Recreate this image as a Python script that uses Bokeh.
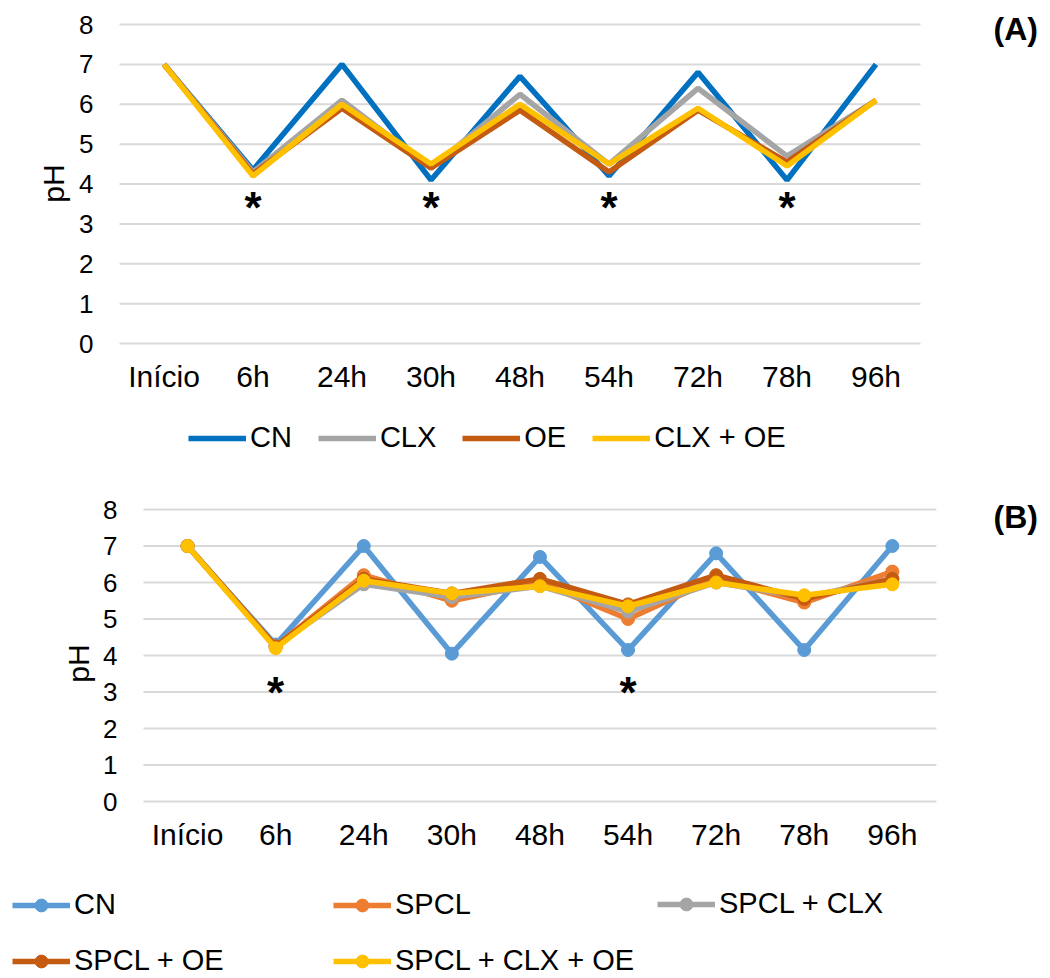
import math
from bokeh.plotting import figure
from bokeh.models import Legend, LegendItem, Label, Range1d, ColumnDataSource, FixedTicker
from bokeh.core.properties import value
from bokeh.embed import file_html
from bokeh.resources import INLINE

times = ["Início", "6h", "24h", "30h", "48h", "54h", "72h", "78h", "96h"]
y_ticks = [0, 1, 2, 3, 4, 5, 6, 7, 8]

# Panel A
a_names = ["CN", "CLX", "OE", "CLX + OE"]
a_cn = [7.0, 4.35, 7.0, 4.1, 6.7, 4.2, 6.8, 4.1, 7.0]
a_clx = [7.0, 4.3, 6.1, 4.4, 6.25, 4.5, 6.4, 4.7, 6.1]
a_oe = [7.0, 4.25, 5.9, 4.4, 5.85, 4.3, 5.85, 4.55, 6.1]
a_clx_oe = [7.0, 4.2, 6.0, 4.5, 6.0, 4.5, 5.9, 4.45, 6.1]
a_colors = ["#0070C0", "#A5A5A5", "#C55A11", "#FFC000"]
a_star_x = ["6h", "30h", "54h", "78h"]
a_star_y = [3.6, 3.6, 3.6, 3.6]

# Panel B
b_names = ["CN", "SPCL", "SPCL + CLX", "SPCL + OE", "SPCL + CLX + OE"]
b_cn = [7.0, 4.3, 7.0, 4.05, 6.7, 4.15, 6.8, 4.15, 7.0]
b_spcl = [7.0, 4.25, 6.2, 5.5, 6.0, 5.0, 6.1, 5.45, 6.3]
b_spcl_clx = [7.0, 4.25, 5.95, 5.6, 5.9, 5.2, 6.0, 5.6, 6.1]
b_spcl_oe = [7.0, 4.25, 6.1, 5.7, 6.1, 5.4, 6.2, 5.55, 6.1]
b_spcl_clx_oe = [7.0, 4.2, 6.05, 5.7, 5.9, 5.35, 6.0, 5.65, 5.95]
b_colors = ["#5B9BD5", "#ED7D31", "#A5A5A5", "#C55A11", "#FFC000"]
b_star_x = ["6h", "54h"]
b_star_y = [3.2, 3.2]

FONT = "Liberation Sans"
x_idx = list(range(len(times)))
pos = {t: i for i, t in enumerate(times)}


def base_fig(width, height, area_left, area_top, cat_px, unit_px):
    """Frame fills the whole canvas; category area starts at area_left px,
    y=8 sits at area_top px."""
    n = len(times)
    x0 = -0.5 - area_left / cat_px
    x1 = x0 + width / cat_px
    y1 = 8 + area_top / unit_px
    y0 = y1 - height / unit_px
    p = figure(x_range=Range1d(x0, x1), y_range=Range1d(y0, y1),
               width=width, height=height, output_backend="svg",
               toolbar_location=None, min_border=0)
    p.outline_line_color = None
    p.xgrid.grid_line_color = None
    p.ygrid.grid_line_color = None
    p.segment(x0=[-0.5] * len(y_ticks), x1=[n - 0.5] * len(y_ticks),
              y0=y_ticks, y1=y_ticks, line_color="#D9D9D9", line_width=2)
    p.xaxis.fixed_location = 0
    p.yaxis.fixed_location = -0.5
    p.xaxis.ticker = FixedTicker(ticks=x_idx)
    p.xaxis.major_label_overrides = {i: t for i, t in zip(x_idx, times)}
    p.yaxis.ticker = FixedTicker(ticks=y_ticks)
    for ax in (p.xaxis[0], p.yaxis[0]):
        ax.axis_line_color = None
        ax.major_tick_line_color = None
        ax.minor_tick_line_color = None
        ax.major_tick_out = 0
        ax.major_tick_in = 0
        ax.minor_tick_out = 0
        ax.minor_tick_in = 0
        ax.major_label_text_font = FONT
        ax.major_label_text_color = "#000000"
    p.xaxis.major_label_text_font_size = "30px"
    p.xaxis.major_label_standoff = 16
    p.yaxis.major_label_text_font_size = "26px"
    p.yaxis.major_label_standoff = 26
    return p


def stars(p, xs, ys):
    src = ColumnDataSource(dict(x=[pos[t] for t in xs], y=ys, t=["*"] * len(xs)))
    p.text(x="x", y="y", text="t", source=src, text_font=value(FONT),
           text_font_size="44px", text_font_style="bold", text_align="center",
           text_baseline="middle", y_offset=8, text_color="#000000")


def make_legend(items, loc, spacing, orientation, gh=20):
    return Legend(items=items, orientation=orientation, location=loc,
                  glyph_width=58, glyph_height=gh, label_standoff=4, spacing=spacing,
                  padding=0, margin=0, border_line_color=None,
                  background_fill_alpha=0, label_text_color="#000000",
                  label_text_font=FONT, label_text_font_size="29px")


def text_label(p, x, y, txt, size, bold=False, angle=0.0, align="left"):
    p.add_layout(Label(x=x, y=y, x_units="screen", y_units="screen", text=txt,
                       text_font=FONT, text_font_size=size,
                       text_font_style="bold" if bold else "normal",
                       text_color="#000000", angle=angle,
                       text_baseline="middle", text_align=align))


# ---------- Figure A ----------
HA = 478
pA = base_fig(1050, HA, 119, 24, 89.0, 319 / 8)
a_series = [a_cn, a_clx, a_oe, a_clx_oe]
a_items = []
for name, ys, c in zip(a_names, a_series, a_colors):
    r = pA.line(x_idx, ys, line_color=c, line_width=5.5)
    a_items.append(LegendItem(label=name, renderers=[r]))
stars(pA, a_star_x, a_star_y)
# legend location = bottom-left corner, measured from the canvas bottom
pA.add_layout(make_legend(a_items, (188, 24), 26, "horizontal"))
text_label(pA, 993, HA - 28, "(A)", "32px", bold=True)
text_label(pA, 53, HA - 183, "pH", "30px", angle=math.pi / 2, align="center")

# ---------- Figure B ----------
HB = 500
pB = base_fig(1050, HB, 143, 31, 88.1, 292 / 8)
b_series = [b_cn, b_spcl, b_spcl_clx, b_spcl_oe, b_spcl_clx_oe]
b_items = []
for name, ys, c in zip(b_names, b_series, b_colors):
    r1 = pB.line(x_idx, ys, line_color=c, line_width=5.5)
    r2 = pB.scatter(x_idx, ys, size=13, fill_color=c, line_color=c)
    b_items.append(LegendItem(label=name, renderers=[r1, r2]))
stars(pB, b_star_x, b_star_y)
for idx, xpos, ybot in zip([[0, 3], [1, 4], [2]], [12, 333, 657], [1, 1, 58]):
    pB.add_layout(make_legend([b_items[i] for i in idx], (xpos, ybot), 23, "vertical", gh=32))
text_label(pB, 993, HB - 38, "(B)", "32px", bold=True)
text_label(pB, 78, HB - 185, "pH", "30px", angle=math.pi / 2, align="center")

open("out.html", "w").write(file_html([pA, pB], INLINE))
